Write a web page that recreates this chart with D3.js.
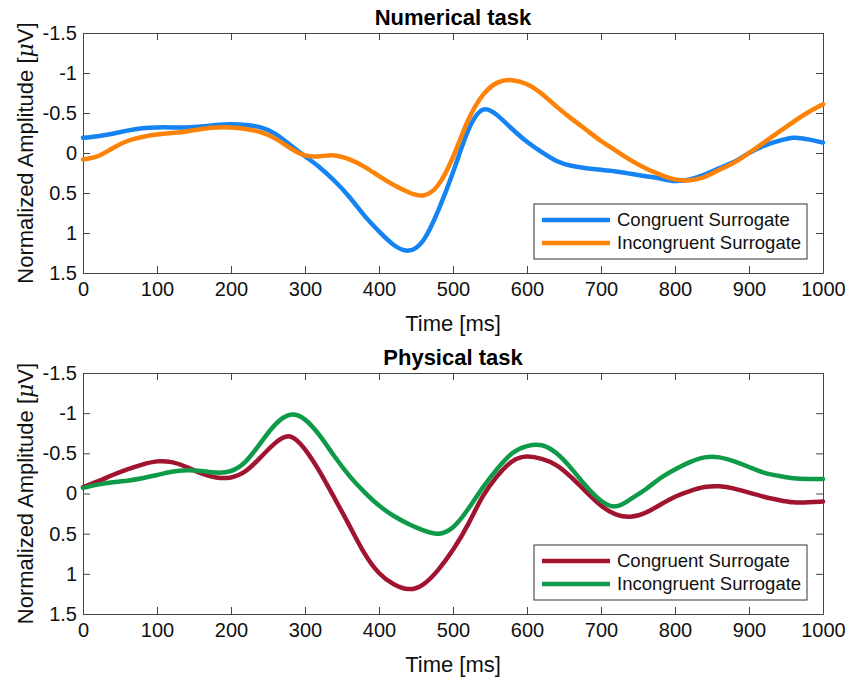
<!DOCTYPE html>
<meta charset="utf-8">
<style>
body { margin: 0; background: #fff; }
svg { font-family: "Liberation Sans", Arial, Helvetica, sans-serif; }
.axis path, .axis line { stroke: #444; stroke-width: 1; }
.axis text { font-size: 20px; fill: #111; }
.title-text { font-size: 22px; font-weight: bold; fill: #000; }
.label-text { font-size: 22px; fill: #111; }
.legend-text { font-size: 18.5px; fill: #111; }
.trace { fill: none; stroke-width: 4.5; stroke-linejoin: round; stroke-linecap: round; }
</style>
<body>
<script src="https://cdn.jsdelivr.net/npm/d3@7"></script>
<script>

// time axis, 20 ms steps
var time = d3.range(0, 1001, 20);

// Numerical task (values in microvolts, negative up)
var numCongruent = [-0.19, -0.21, -0.24, -0.28, -0.31, -0.32, -0.32, -0.32, -0.33, -0.35,
  -0.36, -0.35, -0.32, -0.24, -0.10, 0.04, 0.18, 0.35, 0.55, 0.78,
  0.98, 1.15, 1.22, 1.09, 0.72, 0.24, -0.27, -0.54, -0.47, -0.30,
  -0.14, -0.01, 0.10, 0.16, 0.19, 0.21, 0.23, 0.26, 0.29, 0.32,
  0.35, 0.33, 0.27, 0.19, 0.11, 0.00, -0.09, -0.15, -0.19, -0.17, -0.13];

var numIncongruent = [0.08, 0.04, -0.06, -0.15, -0.20, -0.23, -0.25, -0.27, -0.30, -0.32,
  -0.32, -0.30, -0.26, -0.18, -0.06, 0.03, 0.04, 0.03, 0.08, 0.17,
  0.29, 0.40, 0.49, 0.53, 0.40, 0.05, -0.40, -0.72, -0.88, -0.91,
  -0.86, -0.74, -0.58, -0.43, -0.29, -0.15, -0.03, 0.09, 0.19, 0.27,
  0.33, 0.34, 0.30, 0.21, 0.12, 0.00, -0.13, -0.26, -0.39, -0.51, -0.61];

// Physical task
var physCongruent = [-0.08, -0.15, -0.23, -0.30, -0.36, -0.40, -0.39, -0.33, -0.25, -0.20,
  -0.20, -0.28, -0.45, -0.63, -0.71, -0.55, -0.27, 0.06, 0.40, 0.74,
  0.99, 1.13, 1.19, 1.13, 0.95, 0.70, 0.39, 0.04, -0.22, -0.40,
  -0.46, -0.43, -0.35, -0.20, -0.02, 0.15, 0.26, 0.29, 0.24, 0.14,
  0.04, -0.03, -0.08, -0.09, -0.06, -0.01, 0.04, 0.08, 0.11, 0.11, 0.10];

var physIncongruent = [-0.07, -0.11, -0.14, -0.16, -0.19, -0.23, -0.27, -0.29, -0.28, -0.26,
  -0.28, -0.40, -0.63, -0.86, -0.98, -0.92, -0.72, -0.46, -0.22, -0.02,
  0.15, 0.28, 0.38, 0.46, 0.50, 0.42, 0.20, -0.07, -0.31, -0.50,
  -0.59, -0.60, -0.50, -0.31, -0.09, 0.09, 0.16, 0.07, -0.05, -0.19,
  -0.30, -0.39, -0.45, -0.45, -0.40, -0.33, -0.26, -0.22, -0.19, -0.18, -0.18];

var xTicks = [0, 100, 200, 300, 400, 500, 600, 700, 800, 900, 1000];
var yTicks = [-1.5, -1, -0.5, 0, 0.5, 1, 1.5];
var legendLabels = ["Congruent Surrogate", "Incongruent Surrogate"];

var svg = d3.select("body").append("svg")
    .attr("width", 861)
    .attr("height", 678);

var left = 83, right = 823;

var x = d3.scaleLinear()
    .domain([0, 1000])
    .range([left, right]);

function drawPanel(top, bottom, title, series, colors) {
  var y = d3.scaleLinear()
      .domain([-1.5, 1.5])
      .range([top, bottom]);

  var g = svg.append("g");

  // box with ticks on all four sides, pointing in
  g.append("g")
      .attr("class", "axis")
      .attr("transform", "translate(0," + bottom + ")")
      .call(d3.axisBottom(x).tickValues(xTicks).tickSizeInner(-7).tickSizeOuter(0).tickPadding(9)
        .tickFormat(function(d) { return String(d); }));

  g.append("g")
      .attr("class", "axis")
      .attr("transform", "translate(0," + top + ")")
      .call(d3.axisTop(x).tickValues(xTicks).tickSizeInner(-7).tickSizeOuter(0).tickFormat(""));

  g.append("g")
      .attr("class", "axis")
      .attr("transform", "translate(" + left + ",0)")
      .call(d3.axisLeft(y).tickValues(yTicks).tickSizeInner(-7).tickSizeOuter(0).tickPadding(6)
        .tickFormat(function(d) { return String(d); }));

  g.append("g")
      .attr("class", "axis")
      .attr("transform", "translate(" + right + ",0)")
      .call(d3.axisRight(y).tickValues(yTicks).tickSizeInner(-7).tickSizeOuter(0).tickFormat(""));

  g.selectAll(".axis text").attr("font-family", null).attr("font-size", null);

  var line = d3.line()
      .x(function(d, i) { return x(time[i]); })
      .y(function(d) { return y(d); })
      .curve(d3.curveNatural);

  g.selectAll(".trace")
      .data(series)
      .enter().append("path")
      .attr("class", "trace")
      .attr("stroke", function(d, i) { return colors[i]; })
      .attr("d", line);

  // titles
  g.append("text")
      .attr("class", "title-text")
      .attr("text-anchor", "middle")
      .attr("x", (left + right) / 2)
      .attr("y", top - 8)
      .text(title);

  g.append("text")
      .attr("class", "label-text")
      .attr("text-anchor", "middle")
      .attr("x", (left + right) / 2)
      .attr("y", bottom + 58)
      .text("Time [ms]");

  var yl = g.append("text")
      .attr("class", "label-text")
      .attr("text-anchor", "middle")
      .attr("transform", "translate(33," + ((top + bottom) / 2) + ") rotate(-90)");
  yl.append("tspan").text("Normalized Amplitude [");
  yl.append("tspan").attr("font-style", "italic").attr("font-family", "'DejaVu Serif', serif").text("\u03bc");
  yl.append("tspan").text("V]");

  // legend
  var lg = g.append("g")
      .attr("transform", "translate(534," + (bottom - 69) + ")");
  lg.append("rect")
      .attr("width", 273)
      .attr("height", 55)
      .attr("fill", "#fff")
      .attr("stroke", "#333")
      .attr("stroke-width", 1);
  legendLabels.forEach(function(lab, i) {
    lg.append("line")
        .attr("x1", 8).attr("x2", 76)
        .attr("y1", 16 + i * 23).attr("y2", 16 + i * 23)
        .attr("stroke", colors[i])
        .attr("stroke-width", 4.5);
    lg.append("text")
        .attr("class", "legend-text")
        .attr("x", 83)
        .attr("y", 16 + i * 23)
        .attr("dy", "0.35em")
        .text(lab);
  });
}

drawPanel(33, 273, "Numerical task", [numCongruent, numIncongruent], ["#1583f2", "#fd8208"]);
drawPanel(373, 614, "Physical task", [physCongruent, physIncongruent], ["#a1142f", "#0f9a49"]);

</script>
</body>
